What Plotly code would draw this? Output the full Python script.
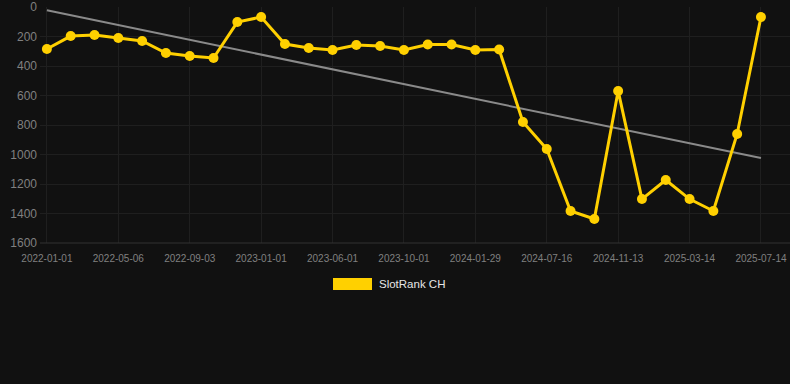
import numpy as np
import plotly.graph_objects as go

dates = ["2022-01-01", "2022-02-11", "2022-03-25", "2022-05-06", "2022-06-15", "2022-07-25",
         "2022-09-03", "2022-10-13", "2022-11-22", "2023-01-01", "2023-02-20", "2023-04-11",
         "2023-06-01", "2023-07-11", "2023-08-21", "2023-10-01", "2023-11-10", "2023-12-20",
         "2024-01-29", "2024-03-25", "2024-05-20", "2024-07-16", "2024-08-25", "2024-10-04",
         "2024-11-13", "2024-12-23", "2025-02-01", "2025-03-14", "2025-04-24", "2025-06-03",
         "2025-07-14"]
ranks = [285, 197, 190, 210, 230, 312, 332, 346, 102, 68, 251, 278, 292, 258, 264, 292,
         254, 254, 292, 288, 780, 963, 1383, 1437, 569, 1302, 1173, 1302, 1383, 861, 68]
tick_labels = dates[::3]
series_name = "SlotRank CH"

idx = np.arange(len(ranks))
slope, intercept = np.polyfit(idx, ranks, 1)
trend = [intercept, intercept + slope * idx[-1]]

fig = go.Figure()
fig.add_trace(go.Scatter(x=[dates[0], dates[-1]], y=trend, mode="lines",
                         line=dict(color="#8a8a8a", width=2), showlegend=False, hoverinfo="skip"))
fig.add_trace(go.Scatter(x=dates, y=ranks, mode="lines+markers", name=series_name,
                         line=dict(color="#FFD000", width=3),
                         marker=dict(color="#FFD000", size=10), showlegend=False))

fig.add_shape(type="rect", xref="paper", yref="paper", x0=(333 - 40) / 750, x1=(372 - 40) / 750,
              y0=-(290 - 243) / 236, y1=-(278 - 243) / 236,
              fillcolor="#FFD000", line=dict(width=0))
fig.add_annotation(text=series_name, xref="paper", yref="paper", x=(377 - 40) / 750, y=-(284 - 243) / 236,
                   xanchor="left", yanchor="middle", showarrow=False,
                   font=dict(color="#e6e6e6", size=11.5, family="Liberation Sans, Arial, sans-serif"))

fig.update_layout(
    width=790, height=384,
    margin=dict(l=40, r=0, t=7, b=141),
    paper_bgcolor="#111111", plot_bgcolor="#111111",
    font=dict(family="Liberation Sans, Arial, sans-serif", color="#808080"),
    xaxis=dict(type="category", categoryorder="array", categoryarray=dates,
               range=[-0.29, 31.22], tickvals=tick_labels, ticktext=tick_labels,
               tickfont=dict(size=10, color="#808080"), showgrid=True, gridcolor="#1f1f1f",
               gridwidth=1, zeroline=False, showline=False, ticks="", ticklabelstandoff=8),
    yaxis=dict(range=[1600, 0], tickvals=[0, 200, 400, 600, 800, 1000, 1200, 1400, 1600],
               tickfont=dict(size=12, color="#808080"), showgrid=True, gridcolor="#1f1f1f",
               zeroline=False, showline=False, ticks="", ticklabelstandoff=2),
)
fig.add_shape(type="line", xref="paper", yref="paper", x0=0, x1=1, y0=0, y1=0,
              line=dict(color="#333333", width=1))

fig.write_html("out.html", config={"displayModeBar": False},
               post_script="document.body.style.margin='0';document.body.style.background='#111111';")
